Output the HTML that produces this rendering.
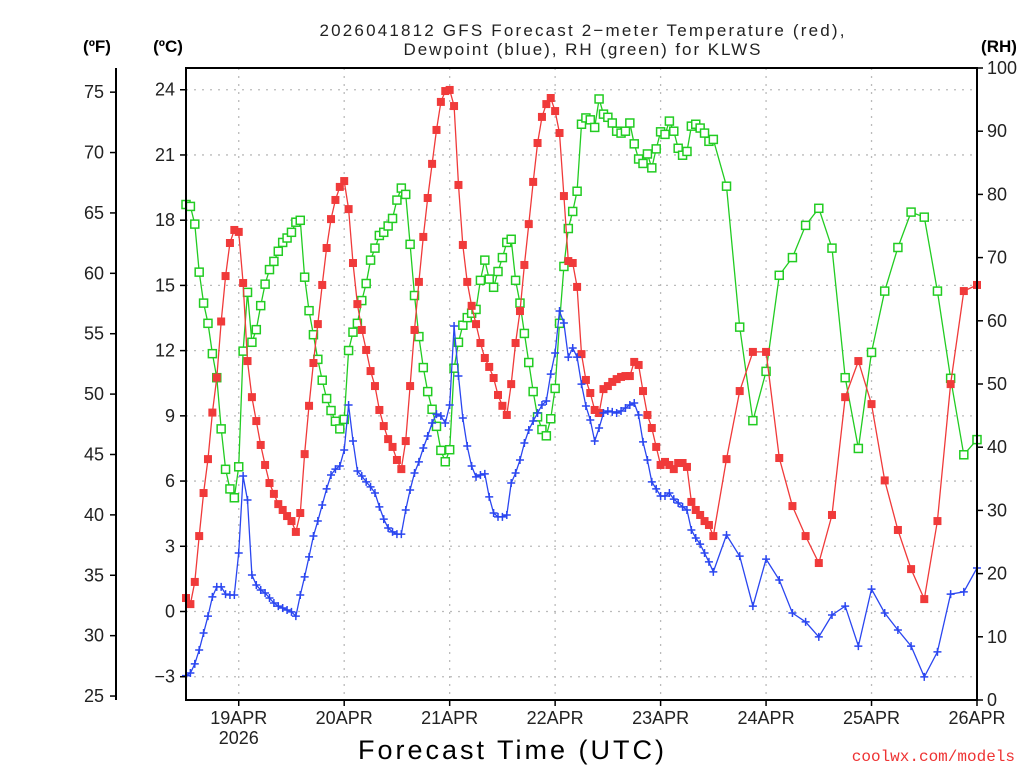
<!DOCTYPE html>
<html><head><meta charset="utf-8"><style>
body{margin:0;background:#fff;}
svg{display:block;font-family:"Liberation Sans",sans-serif;}
</style></head><body>
<svg id="chart" width="1024" height="768" viewBox="0 0 1024 768" xmlns="http://www.w3.org/2000/svg">
<rect width="1024" height="768" fill="#fff"/>
<g font-size="17" fill="#222" text-anchor="middle">
<text x="582" y="36" textLength="525" lengthAdjust="spacing">2026041812 GFS Forecast 2−meter Temperature (red),</text>
<text x="582" y="55" textLength="357" lengthAdjust="spacing">Dewpoint (blue), RH (green) for KLWS</text>
</g>
<text x="97" y="52" font-size="17" font-weight="bold" text-anchor="middle">(ºF)</text>
<text x="168" y="52" font-size="17" font-weight="bold" text-anchor="middle">(ºC)</text>
<text x="999" y="52" font-size="17" font-weight="bold" text-anchor="middle">(RH)</text>
<g id="grid"></g>
<g id="series"></g>
<rect x="186" y="68" width="791" height="632" fill="none" stroke="#000" stroke-width="2"/>
<line x1="116" y1="68" x2="116" y2="700" stroke="#000" stroke-width="2"/>
<g id="axes" font-size="18" fill="#222"></g>
<text x="511" y="759" font-size="27" text-anchor="middle" fill="#000" textLength="306" lengthAdjust="spacing">Forecast Time (UTC)</text>
<text x="1015" y="761" font-size="16" text-anchor="end" fill="#e33" font-family="Liberation Mono, monospace">coolwx.com/models</text>
</svg>
<script>
const tempC = [0.62,0.34,1.36,3.47,5.45,7.01,9.15,10.76,13.34,15.43,16.95,17.55,17.46,15.11,11.52,9.86,8.76,7.66,6.74,5.91,5.41,4.94,4.67,4.39,4.16,3.66,4.53,7.24,9.46,11.43,13.22,15.02,16.72,18.05,18.93,19.53,19.80,18.51,16.03,14.14,12.95,12.03,11.06,10.37,9.27,8.53,7.93,7.57,6.97,6.55,7.84,10.37,12.95,15.16,17.23,19.02,20.59,22.15,23.44,23.94,23.99,23.25,19.62,16.86,15.16,14.06,13.22,12.35,11.66,11.25,10.74,9.96,9.46,9.04,10.46,12.35,13.82,15.94,17.82,19.76,21.55,22.75,23.34,23.62,23.02,22.01,19.11,16.12,16.03,14.93,11.84,10.65,10.05,9.27,9.13,10.23,10.37,10.56,10.69,10.79,10.83,10.83,11.48,11.34,10.14,9.04,8.44,7.57,6.74,6.88,6.74,6.55,6.83,6.83,6.65,5.04,4.67,4.44,4.16,3.98,3.47,7.01,10.14,11.94,11.94,7.06,4.85,3.47,2.23,4.44,9.86,11.52,9.54,6.03,3.75,1.95,0.57,4.16,10.46,14.74,15.02];
const dewC = [-2.95,-2.83,-2.41,-1.77,-0.99,-0.21,0.67,1.13,1.13,0.80,0.76,0.76,2.69,6.23,5.13,1.68,1.22,0.99,0.85,0.62,0.39,0.25,0.16,0.07,-0.02,-0.21,0.76,1.59,2.51,3.47,4.16,4.90,5.64,6.28,6.55,6.69,7.43,9.50,7.84,6.46,6.23,5.96,5.73,5.45,4.81,4.25,3.84,3.66,3.56,3.56,4.67,5.59,6.37,6.88,7.52,8.07,8.67,9.08,8.99,8.67,9.50,13.13,10.83,8.90,7.61,6.69,6.19,6.28,6.33,5.27,4.53,4.35,4.35,4.44,5.91,6.37,6.97,7.75,8.35,8.76,9.13,9.50,9.68,10.92,11.89,13.82,13.27,11.70,12.12,11.70,10.46,9.45,8.81,7.84,8.44,9.13,9.22,9.18,9.13,9.22,9.36,9.50,9.59,9.04,7.80,6.97,5.96,5.64,5.31,5.31,5.45,5.17,4.99,4.81,4.67,3.75,3.38,3.10,2.69,2.28,1.82,3.52,2.55,0.25,2.41,1.45,-0.07,-0.48,-1.17,-0.16,0.25,-1.59,1.03,-0.07,-0.85,-1.59,-3.01,-1.86,0.80,0.90,2.0];
const rhPct = [78.4,78.1,75.3,67.7,62.8,59.6,54.8,51.0,42.9,36.5,33.4,32.0,36.9,55.2,64.5,56.6,58.6,62.4,65.8,68.1,69.4,71.0,72.4,73.1,74.0,75.6,75.9,66.9,61.6,57.8,53.9,50.6,47.7,45.8,44.1,42.9,44.4,55.3,58.2,59.6,63.2,65.9,69.6,71.5,73.5,74.0,75.0,76.2,79.1,81.0,80.0,72.1,64.0,57.5,52.6,48.8,46.0,43.3,39.5,37.7,39.6,52.5,56.6,59.3,60.5,61.2,61.8,66.4,69.6,66.6,65.3,67.8,70.0,72.4,72.9,66.4,62.8,58.0,53.4,48.8,44.8,42.8,41.8,44.5,49.3,59.6,68.6,74.6,77.3,80.5,91.1,92.1,91.8,90.6,95.1,92.7,92.2,91.3,90.0,89.7,90.0,91.3,88.0,85.6,84.9,86.4,84.2,87.2,89.9,89.5,91.6,90.0,87.3,86.2,86.8,90.8,91.1,90.5,89.7,88.4,88.7,81.3,59.0,44.2,52.0,67.2,70.0,75.1,77.8,71.5,51.0,39.8,55.0,64.7,71.6,77.2,76.4,64.7,50.9,38.8,41.2];
const dayLabels = ["19APR","20APR","21APR","22APR","23APR","24APR","25APR","26APR"];
const celsiusTicks = [-3,0,3,6,9,12,15,18,21,24];
const fahrenheitTicks = [25,30,35,40,45,50,55,60,65,70,75];
const rhTicks = [0,10,20,30,40,50,60,70,80,90,100];
// forecast hours: hourly to 120h, then 3-hourly to 180h
const hours = [];
for (let h = 0; h <= 120; h++) hours.push(h);
for (let h = 123; h <= 180; h += 3) hours.push(h);

const NS = "http://www.w3.org/2000/svg";
const L = 186, R = 977, T = 68, B = 700;
const x = h => L + (h / 180) * (R - L);
const yC = c => 611.5 - c * 21.74;
const yF = f => yC((f - 32) * 5 / 9);
const yRH = r => B - r / 100 * (B - T);
function mk(tag, attrs, parent) {
  const e = document.createElementNS(NS, tag);
  for (const k in attrs) e.setAttribute(k, attrs[k]);
  parent.appendChild(e);
  return e;
}
const grid = document.getElementById("grid");
const axes = document.getElementById("axes");
const series = document.getElementById("series");

celsiusTicks.forEach(c => {
  const g = mk("line", {x1: L, x2: R, y1: yC(c), y2: yC(c), stroke: "#bbb", "stroke-width": 1.3, "stroke-dasharray": "2,6"}, grid);
  
  
  const t = mk("line", {x1: L - 6, x2: L, y1: yC(c), y2: yC(c), stroke: "#000", "stroke-width": 1.5}, axes);
  
  
  const lb = mk("text", {x: L - 11, y: yC(c) + 6, "text-anchor": "end"}, axes);
  lb.textContent = c < 0 ? "−" + Math.abs(c) : String(c);
  
  
});
fahrenheitTicks.forEach(f => {
  const t = mk("line", {x1: 110, x2: 116, y1: yF(f), y2: yF(f), stroke: "#000", "stroke-width": 1.5}, axes);
  
  
  const lb = mk("text", {x: 104, y: yF(f) + 6, "text-anchor": "end"}, axes);
  lb.textContent = String(f);
  
  
});
rhTicks.forEach(r => {
  const t = mk("line", {x1: R, x2: R + 6, y1: yRH(r), y2: yRH(r), stroke: "#000", "stroke-width": 1.5}, axes);
  
  
  const lb = mk("text", {x: R + 10, y: yRH(r) + 6, "text-anchor": "start"}, axes);
  lb.textContent = String(r);
  
  
});
dayLabels.forEach((d, i) => {
  const xx = x(12 + 24 * i);
  const g = mk("line", {x1: xx, x2: xx, y1: T, y2: B, stroke: "#bbb", "stroke-width": 1.3, "stroke-dasharray": "2,6"}, grid);
  
  
  const t = mk("line", {x1: xx, x2: xx, y1: B, y2: B + 6, stroke: "#000", "stroke-width": 1.5}, axes);
  
  
  const lb = mk("text", {x: xx, y: 724, "text-anchor": "middle"}, axes);
  lb.textContent = d;
  
  
});
const yr = mk("text", {x: x(12), y: 744, "text-anchor": "middle"}, axes);
yr.textContent = "2026";



function drawSeries(vals, yf, color, kind, name) {
  const pts = vals.map((v, i) => x(hours[i]).toFixed(1) + "," + yf(v).toFixed(1)).join(" ");
  const pl = mk("polyline", {points: pts, fill: "none", stroke: color, "stroke-width": 1.3}, series);
  
  
  vals.forEach((v, i) => {
    const px = x(hours[i]), py = yf(v);
    let m;
    if (kind === "filled") m = mk("rect", {x: px - 4, y: py - 4, width: 8, height: 8, fill: color}, series);
    else if (kind === "open") m = mk("rect", {x: px - 4, y: py - 4, width: 8, height: 8, fill: "#fff", stroke: color, "stroke-width": 1.5}, series);
    else m = mk("path", {d: `M${px - 4},${py}H${px + 4}M${px},${py - 4}V${py + 4}`, stroke: color, "stroke-width": 1.5}, series);
    
    
  });
}
drawSeries(rhPct, yRH, "#22cc22", "open", "rh");
drawSeries(tempC, yC, "#f03a3a", "filled", "temperature");
drawSeries(dewC, yC, "#2a46f0", "plus", "dewpoint");
</script>
</body></html>
